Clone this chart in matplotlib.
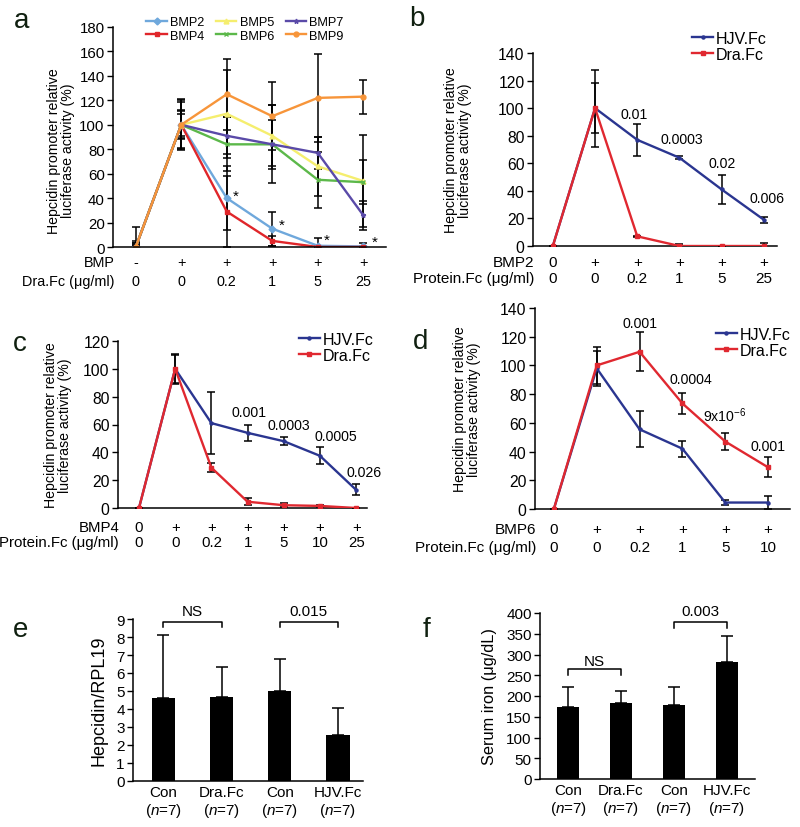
import numpy as np
import matplotlib
matplotlib.use('Agg')
import matplotlib.pyplot as plt
from matplotlib.transforms import offset_copy

plt.rcParams['font.family'] = ['Liberation Sans', 'DejaVu Sans']
plt.rcParams['font.size'] = 11
plt.rcParams['mathtext.fontset'] = 'custom'
plt.rcParams['mathtext.rm'] = 'Liberation Sans'
plt.rcParams['mathtext.it'] = 'Liberation Sans:italic'

W, H = 800, 828

#### data

# panel a
a_bmp_row = ['-', '+', '+', '+', '+', '+']
a_dose_row = ['0', '0', '0.2', '1', '5', '25']
a_names = ['BMP2', 'BMP4', 'BMP5', 'BMP6', 'BMP7', 'BMP9']
a_colors = ['#6fa8dc', '#e0262a', '#f5ee6e', '#5cb84a', '#5a4aa8', '#f7953a']
a_markers = ['D', 's', '^', 'x', '*', 'o']
bmp2 = [0, 100, 40, 15, 1, 0.5]
bmp4 = [0, 100, 29, 5, 0, 0]
bmp5 = [0, 100, 109, 91, 66, 54]
bmp6 = [0, 100, 84, 84, 55, 53]
bmp7 = [0, 100, 91, 84, 77, 26]
bmp9 = [0, 100, 125, 107, 122, 123]
bmp2_err = [16, 20, 26, 14, 6, 3]
bmp4_err = [5, 21, 29, 4, 0.5, 0.5]
bmp5_err = [2, 11, 36, 25, 24, 38]
bmp6_err = [3, 19, 22, 32, 23, 18]
bmp7_err = [2, 9, 15, 20, 13, 12]
bmp9_err = [3, 12, 29, 28, 36, 14]
a_star_x = [2.2, 3.2, 4.2, 5.25]
a_star_y = [42, 18, 6, 4]

# panel b
b_bmp_row = ['0', '+', '+', '+', '+', '+']
b_dose_row = ['0', '0', '0.2', '1', '5', '25']
hjv_b = [0, 100, 77, 64, 41, 19]
hjv_b_err = [0, 28, 11.5, 1, 10.5, 2]
dra_b = [0, 100, 7, 0, 0, 0]
dra_b_err = [0, 18, 0.5, 1.5, 0, 2]
b_p = ['0.01', '0.0003', '0.02', '0.006']
b_p_x = [1.93, 3.05, 4.0, 5.07]
b_p_y = [96, 77.5, 60, 34.6]

# panel c
c_bmp_row = ['0', '+', '+', '+', '+', '+', '+']
c_dose_row = ['0', '0', '0.2', '1', '5', '10', '25']
hjv_c = [0, 100, 61, 54, 48, 37.5, 13]
hjv_c_err = [0, 11, 22.5, 5.5, 3, 6, 4]
dra_c = [0, 100, 29, 4.5, 2, 1.5, 0]
dra_c_err = [0, 10, 3, 2.5, 1.5, 1, 0]
c_p = ['0.001', '0.0003', '0.0005', '0.026']
c_p_x = [3.04, 4.14, 5.43, 6.22]
c_p_y = [69, 59.4, 51.7, 25.9]

# panel d
d_bmp_row = ['0', '+', '+', '+', '+', '+']
d_dose_row = ['0', '0', '0.2', '1', '5', '10']
hjv_d = [0, 98, 55.5, 42, 4.5, 4.5]
hjv_d_err = [0, 12, 12.5, 5.5, 1.5, 4.5]
dra_d = [0, 100, 109.5, 73.5, 47, 29]
dra_d_err = [0, 13, 13.5, 7, 6, 7]
d_p = ['0.001', '0.0004', '9x10$^{-6}$', '0.001']
d_p_x = [2.0, 3.19, 4.0, 5.0]
d_p_y = [129.6, 90.5, 65.5, 44]

# panels e and f
ef_groups = ['Con\n($\\it{n}$=7)', 'Dra.Fc\n($\\it{n}$=7)', 'Con\n($\\it{n}$=7)', 'HJV.Fc\n($\\it{n}$=7)']
e_vals = [4.6, 4.68, 5.0, 2.56]
e_err = [3.53, 1.67, 1.77, 1.52]
f_vals = [172.7, 184, 177.5, 281]
f_err = [48, 27, 43, 63]

HJV_COL = '#2a3590'
DRA_COL = '#e02830'
LABEL_COL = '#102010'


def px_axes(fig, l, t, r, b):
    return fig.add_axes([l / W, 1 - b / H, (r - l) / W, (b - t) / H])


def style(ax, tick_fs):
    for s in ['top', 'right']:
        ax.spines[s].set_visible(False)
    ax.spines['left'].set_linewidth(1.1)
    ax.spines['bottom'].set_linewidth(1.1)
    ax.tick_params(axis='y', direction='out', length=4, width=1, pad=2, labelsize=tick_fs)
    ax.set_xticks([])


def add_rows(fig, ax, rows, names, offsets, fs):
    for row, name, dy in zip(rows, names, offsets):
        tr = offset_copy(ax.get_xaxis_transform(), fig=fig, y=-dy, units='dots')
        for i, lab in enumerate(row):
            ax.text(i, 0, lab, transform=tr, ha='center', va='center', clip_on=False, fontsize=fs)
        tr2 = offset_copy(ax.transAxes, fig=fig, y=-dy, units='dots')
        ax.text(0.005, 0, name, transform=tr2, ha='right', va='center', clip_on=False, fontsize=fs)


def line_panel(ax, hjv, hjv_err, dra, dra_err):
    x = np.arange(len(hjv))
    ax.errorbar(x, hjv, yerr=hjv_err, fmt='none', ecolor='k', elinewidth=1.1, capsize=3, capthick=1.1, zorder=1)
    ax.errorbar(x, dra, yerr=dra_err, fmt='none', ecolor='k', elinewidth=1.1, capsize=3, capthick=1.1, zorder=1)
    ax.plot(x, hjv, color=HJV_COL, lw=1.7, marker='o', ms=2.2, label='HJV.Fc', zorder=2)
    ax.plot(x, dra, color=DRA_COL, lw=1.7, marker='s', ms=2.2, label='Dra.Fc', zorder=3)


def p_texts(ax, labels, xs, ys):
    for t, px_, py_ in zip(labels, xs, ys):
        ax.text(px_, py_, t, ha='center', va='center', fontsize=10.2)


fig = plt.figure(figsize=(W / 100, H / 100), dpi=100)

ylab = 'Hepcidin promoter relative\nluciferase activity (%)'
leg_kw = dict(bbox_transform=fig.transFigure, frameon=False, handlelength=1.3, handletextpad=0.2,
              labelspacing=0.05, borderpad=0, fontsize=11.5)

#### panel a
ax = px_axes(fig, 113, 28, 386, 248)
style(ax, 10.8)
x = np.arange(6)
a_series = [bmp2, bmp4, bmp5, bmp6, bmp7, bmp9]
a_errs = [bmp2_err, bmp4_err, bmp5_err, bmp6_err, bmp7_err, bmp9_err]
for vals, err in zip(a_series, a_errs):
    ax.errorbar(x, vals, yerr=err, fmt='none', ecolor='k', elinewidth=1.1, capsize=3, capthick=1.1, zorder=1)
for vals, name, col, mk in zip(a_series, a_names, a_colors, a_markers):
    ax.plot(x, vals, color=col, lw=1.7, marker=mk, ms=3.5, label=name, zorder=2)
for sx, sy in zip(a_star_x, a_star_y):
    ax.text(sx, sy, '*', ha='center', va='center', fontsize=11)
ax.set_xlim(-0.5, 5.5)
ax.set_ylim(0, 180)
ax.set_yticks(range(0, 181, 20))
ax.set_ylabel(ylab, linespacing=1.0, fontsize=10.2)
ax.yaxis.set_label_coords(-0.14, 0.44)
add_rows(fig, ax, [a_bmp_row, a_dose_row], ['BMP', 'Dra.Fc (\u03bcg/ml)'], [15, 34], 10.4)
ax.legend(ncol=3, loc='center', bbox_to_anchor=(245 / W, 1 - 30 / H), bbox_transform=fig.transFigure,
          frameon=False, handlelength=1.6, handletextpad=0.25, columnspacing=0.9, labelspacing=0.1,
          borderpad=0, fontsize=9.2)

#### panel b
ax = px_axes(fig, 533, 54, 777, 247)
style(ax, 11.3)
line_panel(ax, hjv_b, hjv_b_err, dra_b, dra_b_err)
p_texts(ax, b_p, b_p_x, b_p_y)
ax.set_xlim(-0.47, 5.31)
ax.set_ylim(0, 140)
ax.set_yticks(range(0, 141, 20))
ax.set_ylabel(ylab, linespacing=1.0, fontsize=10.2)
ax.yaxis.set_label_coords(-0.25, 0.5)
add_rows(fig, ax, [b_bmp_row, b_dose_row], ['BMP2', 'Protein.Fc (\u03bcg/ml)'], [16, 32], 11)
ax.legend(loc='upper right', bbox_to_anchor=(775 / W, 1 - 24 / H), **leg_kw)

#### panel c
ax = px_axes(fig, 118, 342, 367, 509)
style(ax, 11.3)
line_panel(ax, hjv_c, hjv_c_err, dra_c, dra_c_err)
p_texts(ax, c_p, c_p_x, c_p_y)
ax.set_xlim(-0.58, 6.3)
ax.set_ylim(0, 120)
ax.set_yticks(range(0, 121, 20))
ax.set_ylabel(ylab, linespacing=1.0, fontsize=10.2)
ax.yaxis.set_label_coords(-0.185, 0.5)
add_rows(fig, ax, [c_bmp_row, c_dose_row], ['BMP4', 'Protein.Fc (\u03bcg/ml)'], [19, 34], 10.8)
ax.legend(loc='upper left', bbox_to_anchor=(291 / W, 1 - 325 / H), **leg_kw)

#### panel d
ax = px_axes(fig, 535, 309, 790, 510)
style(ax, 11.3)
line_panel(ax, hjv_d, hjv_d_err, dra_d, dra_d_err)
p_texts(ax, d_p, d_p_x, d_p_y)
ax.set_xlim(-0.44, 5.51)
ax.set_ylim(0, 140)
ax.set_yticks(range(0, 141, 20))
ax.set_ylabel(ylab, linespacing=1.0, fontsize=10.2)
ax.yaxis.set_label_coords(-0.21, 0.5)
add_rows(fig, ax, [d_bmp_row, d_dose_row], ['BMP6', 'Protein.Fc (\u03bcg/ml)'], [20, 38], 11)
ax.legend(loc='upper left', bbox_to_anchor=(708 / W, 1 - 320 / H), **leg_kw)


def bracket(ax, x1, x2, y, tip, label, ty):
    ax.plot([x1, x1, x2, x2], [tip, y, y, tip], color='k', lw=1.1, clip_on=False)
    ax.text((x1 + x2) / 2, ty, label, ha='center', va='center', clip_on=False, fontsize=11)


def bar_panel(ax, vals, err, width):
    x = np.arange(len(vals))
    ax.bar(x, vals, width=width, color='k', zorder=2)
    ax.errorbar(x, vals, yerr=[np.zeros(len(err)), err], fmt='none', ecolor='k', elinewidth=1.1,
                capsize=4, capthick=1.1, zorder=1)
    ax.set_xticks(x)
    ax.set_xticklabels(ef_groups, linespacing=1.15, fontsize=11)
    ax.tick_params(axis='x', length=0, pad=3)


#### panel e
ax = px_axes(fig, 133, 620, 363, 782)
style(ax, 11)
bar_panel(ax, e_vals, e_err, 0.4)
ax.set_xlim(-0.52, 3.43)
ax.set_ylim(0, 9)
ax.set_yticks(range(0, 10))
ax.set_ylabel('Hepcidin/RPL19', fontsize=13)
ax.yaxis.set_label_coords(-0.113, 0.5)
bracket(ax, 0, 1, 8.85, 8.53, 'NS', 9.46)
bracket(ax, 2, 3, 8.85, 8.53, '0.015', 9.46)

#### panel f
ax = px_axes(fig, 540, 614, 755, 780)
style(ax, 11)
bar_panel(ax, f_vals, f_err, 0.42)
ax.set_xlim(-0.53, 3.53)
ax.set_ylim(0, 400)
ax.set_yticks(range(0, 401, 50))
ax.set_ylabel('Serum iron (\u03bcg/dL)', fontsize=11.8)
ax.yaxis.set_label_coords(-0.2, 0.5)
bracket(ax, 0, 1, 265, 251, 'NS', 285)
bracket(ax, 2, 3, 379, 363, '0.003', 405)

#### panel letters
for lab, lx, ly in [('a', 22, 21), ('b', 417, 19), ('c', 20, 344), ('d', 421, 342), ('e', 21, 630), ('f', 427, 630)]:
    fig.text(lx / W, 1 - ly / H, lab, fontsize=20, color=LABEL_COL, ha='center', va='center')

fig.savefig('out.png', dpi=100)
